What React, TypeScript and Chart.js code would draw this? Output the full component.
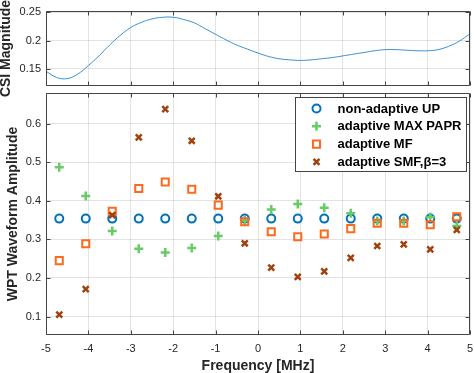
import React, { useEffect, useRef } from 'react';
import { Chart, registerables } from 'chart.js';

Chart.register(...registerables);

// ---------- data ----------
const csiFreq = [
  -5, -4.75, -4.5, -4.25, -4, -3.75, -3.5, -3.25, -3, -2.75, -2.5, -2.25, -2, -1.75, -1.5, -1.25, -1, -0.75, -0.5, -0.25,
  0, 0.25, 0.5, 0.75, 1, 1.25, 1.5, 1.75, 2, 2.25, 2.5, 2.75, 3, 3.25, 3.5, 3.75, 4, 4.25, 4.5, 4.75, 5,
];
const csiMag = [
  0.146, 0.135, 0.133, 0.141, 0.156, 0.173, 0.192, 0.209, 0.223, 0.232, 0.238, 0.241, 0.241, 0.237, 0.231, 0.221, 0.211, 0.201, 0.192, 0.185,
  0.178, 0.172, 0.168, 0.166, 0.165, 0.166, 0.168, 0.17, 0.173, 0.176, 0.179, 0.182, 0.184, 0.184, 0.183, 0.182, 0.182, 0.184, 0.19, 0.199, 0.212,
];

const toneFreq = [
  -4.6875, -4.0625, -3.4375, -2.8125, -2.1875, -1.5625, -0.9375, -0.3125,
  0.3125, 0.9375, 1.5625, 2.1875, 2.8125, 3.4375, 4.0625, 4.6875,
];
const upAmp = [0.354, 0.354, 0.354, 0.354, 0.354, 0.354, 0.354, 0.354, 0.354, 0.354, 0.354, 0.354, 0.354, 0.354, 0.354, 0.354];
const maxPaprAmp = [0.487, 0.413, 0.322, 0.276, 0.266, 0.278, 0.309, 0.349, 0.378, 0.392, 0.382, 0.368, 0.348, 0.348, 0.358, 0.335];
const mfAmp = [0.245, 0.289, 0.373, 0.432, 0.449, 0.43, 0.389, 0.346, 0.32, 0.307, 0.314, 0.328, 0.342, 0.342, 0.338, 0.359];
const smfAmp = [0.105, 0.171, 0.363, 0.565, 0.638, 0.556, 0.412, 0.29, 0.227, 0.203, 0.217, 0.252, 0.283, 0.287, 0.274, 0.325];

const seriesNames = ['non-adaptive UP', 'adaptive MAX PAPR', 'adaptive MF', 'adaptive SMF,\u03B2=3'];

const freqTicks = [-5, -4, -3, -2, -1, 0, 1, 2, 3, 4, 5];
const csiTicks = [0.15, 0.2, 0.25];
const ampTicks = [0.1, 0.2, 0.3, 0.4, 0.5, 0.6];

// ---------- styles ----------
const FONT = '"Liberation Sans", Arial, Helvetica, sans-serif';
const AXIS_COLOR = '#444444';
const TEXT_COLOR = '#262626';
const GRID_COLOR = 'rgba(38,38,38,0.13)';

const styles = [
  { color: '#0072BD', point: 'circle', r: 4, lw: 2, order: 4 },
  { color: '#66CC66', point: 'cross', r: 4.5, lw: 2.5, order: 3 },
  { color: '#FB6A1E', point: 'rect', r: 5, lw: 2, order: 2 },
  { color: '#A2410D', point: 'crossRot', r: 4.2, lw: 2.5, order: 1 },
];

function drawMarker(ctx: CanvasRenderingContext2D, style: string, x: number, y: number, r: number, color: string, lw: number) {
  ctx.save();
  ctx.strokeStyle = color;
  ctx.lineWidth = lw;
  ctx.beginPath();
  if (style === 'circle') {
    ctx.arc(x, y, r, 0, Math.PI * 2);
  } else if (style === 'rect') {
    const s = r * Math.SQRT1_2;
    ctx.rect(x - s, y - s, 2 * s, 2 * s);
  } else if (style === 'cross') {
    ctx.moveTo(x - r, y);
    ctx.lineTo(x + r, y);
    ctx.moveTo(x, y - r);
    ctx.lineTo(x, y + r);
  } else {
    const d = r * Math.SQRT1_2;
    ctx.moveTo(x - d, y - d);
    ctx.lineTo(x + d, y + d);
    ctx.moveTo(x + d, y - d);
    ctx.lineTo(x - d, y + d);
  }
  ctx.stroke();
  ctx.restore();
}

const boxPlugin = {
  id: 'matlabBox',
  afterDatasetsDraw(chart: any) {
    const { ctx, chartArea: a, scales } = chart;
    const L = Math.round(a.left) + 0.5;
    const R = Math.round(a.right) - 0.5;
    const T = Math.round(a.top) + 0.5;
    const B = Math.round(a.bottom) - 0.5;
    const tl = 4;
    ctx.save();
    ctx.strokeStyle = AXIS_COLOR;
    ctx.lineWidth = 1;
    ctx.beginPath();
    ctx.rect(L, T, R - L, B - T);
    scales.x.ticks.forEach((t: any) => {
      const px = Math.round(scales.x.getPixelForValue(t.value)) + 0.5;
      ctx.moveTo(px, B);
      ctx.lineTo(px, B - tl);
      ctx.moveTo(px, T);
      ctx.lineTo(px, T + tl);
    });
    scales.y.ticks.forEach((t: any) => {
      const py = Math.round(scales.y.getPixelForValue(t.value)) + 0.5;
      ctx.moveTo(L, py);
      ctx.lineTo(L + tl, py);
      ctx.moveTo(R, py);
      ctx.lineTo(R - tl, py);
    });
    ctx.stroke();
    ctx.restore();
  },
};

const legendPlugin = {
  id: 'boxLegend',
  afterDraw(chart: any) {
    const { ctx, chartArea: a } = chart;
    const w = 171;
    const h = 74;
    const x0 = Math.round(a.right) - 4 - w + 0.5;
    const y0 = Math.round(a.top) + 4 + 0.5;
    ctx.save();
    ctx.fillStyle = '#ffffff';
    ctx.fillRect(x0, y0, w, h);
    ctx.strokeStyle = AXIS_COLOR;
    ctx.lineWidth = 1;
    ctx.strokeRect(x0, y0, w, h);
    ctx.font = `bold 13px ${FONT}`;
    ctx.textBaseline = 'middle';
    ctx.textAlign = 'left';
    ctx.fillStyle = '#000000';
    seriesNames.forEach((name, i) => {
      const cy = y0 + 11 + i * 17.8;
      const s = styles[i];
      drawMarker(ctx, s.point, x0 + 21, cy, s.r, s.color, s.lw);
      ctx.fillText(name, x0 + 42, cy + 0.5);
    });
    ctx.restore();
  },
};

const grid = { color: GRID_COLOR, drawTicks: false, lineWidth: 1 };

const fixSize = (prop: 'width' | 'height', size: number) => (s: any) => {
  s[prop] = size;
  s.paddingTop = 0;
  s.paddingBottom = 0;
  s.paddingLeft = 0;
  s.paddingRight = 0;
};

export default function App() {
  const topRef = useRef<HTMLCanvasElement>(null);
  const botRef = useRef<HTMLCanvasElement>(null);

  useEffect(() => {
    Chart.defaults.font.family = FONT;
    Chart.defaults.color = TEXT_COLOR;

    const top = new Chart(topRef.current as HTMLCanvasElement, {
      type: 'scatter',
      data: {
        datasets: [
          {
            data: csiFreq.map((f, i) => ({ x: f, y: csiMag[i] })),
            showLine: true,
            borderColor: '#3a8fd2',
            borderWidth: 1,
            pointRadius: 0,
            tension: 0.4,
            fill: false,
          },
        ],
      },
      options: {
        animation: false,
        responsive: false,
        layout: { autoPadding: false, padding: { top: 11, right: 4, left: 0, bottom: 0 } },
        plugins: { legend: { display: false }, tooltip: { enabled: false } },
        scales: {
          x: {
            type: 'linear',
            min: -5,
            max: 5,
            afterBuildTicks: (s: any) => {
              s.ticks = freqTicks.map((v) => ({ value: v }));
            },
            afterFit: fixSize('height', 24),
            ticks: { display: false },
            grid,
            border: { display: false },
          },
          y: {
            type: 'linear',
            min: 0.12,
            max: 0.252,
            afterBuildTicks: (s: any) => {
              s.ticks = csiTicks.map((v) => ({ value: v }));
            },
            afterFit: fixSize('width', 46),
            ticks: {
              padding: 5,
              font: { size: 11 },
              color: TEXT_COLOR,
              callback: (v: any) => String(v),
            },
            grid,
            border: { display: false },
            title: {
              display: true,
              text: 'CSI Magnitude',
              font: { size: 14, weight: 'bold', lineHeight: 1 },
              color: TEXT_COLOR,
              padding: { top: -1, bottom: 0 },
            },
          },
        },
      },
      plugins: [boxPlugin],
    } as any);

    const seriesValues = [upAmp, maxPaprAmp, mfAmp, smfAmp];
    const bottom = new Chart(botRef.current as HTMLCanvasElement, {
      type: 'scatter',
      data: {
        datasets: seriesValues.map((vals, i) => ({
          label: seriesNames[i],
          data: toneFreq.map((f, k) => ({ x: f, y: vals[k] })),
          pointStyle: styles[i].point,
          pointRadius: styles[i].r,
          pointBorderWidth: styles[i].lw,
          borderColor: styles[i].color,
          backgroundColor: 'rgba(0,0,0,0)',
          pointBackgroundColor: 'rgba(0,0,0,0)',
          pointBorderColor: styles[i].color,
          order: styles[i].order,
          showLine: false,
        })),
      },
      options: {
        animation: false,
        responsive: false,
        layout: { autoPadding: false, padding: { top: 5, right: 4, left: 0, bottom: 0 } },
        plugins: { legend: { display: false }, tooltip: { enabled: false } },
        scales: {
          x: {
            type: 'linear',
            min: -5,
            max: 5,
            afterBuildTicks: (s: any) => {
              s.ticks = freqTicks.map((v) => ({ value: v }));
            },
            afterFit: fixSize('height', 38),
            ticks: {
              padding: 7,
              font: { size: 11 },
              color: TEXT_COLOR,
              maxRotation: 0,
              autoSkip: false,
              callback: (v: any) => String(v),
            },
            grid,
            border: { display: false },
            title: {
              display: true,
              text: 'Frequency [MHz]',
              font: { size: 14, weight: 'bold', lineHeight: 1 },
              color: TEXT_COLOR,
              padding: { top: 0, bottom: 0 },
            },
          },
          y: {
            type: 'linear',
            min: 0.052,
            max: 0.68,
            afterBuildTicks: (s: any) => {
              s.ticks = ampTicks.map((v) => ({ value: v }));
            },
            afterFit: fixSize('width', 46),
            ticks: {
              padding: 5,
              font: { size: 11 },
              color: TEXT_COLOR,
              callback: (v: any) => String(v),
            },
            grid,
            border: { display: false },
            title: {
              display: true,
              text: 'WPT Waveform Amplitude',
              font: { size: 14, weight: 'bold', lineHeight: 1 },
              color: TEXT_COLOR,
              padding: { top: 6, bottom: 0 },
            },
          },
        },
      },
      plugins: [boxPlugin, legendPlugin],
    } as any);

    return () => {
      top.destroy();
      bottom.destroy();
    };
  }, []);

  return (
    <div style={{ position: 'absolute', left: 0, top: 0, width: 474, height: 373, background: '#ffffff', overflow: 'hidden' }}>
      <canvas ref={topRef} width={474} height={110} style={{ position: 'absolute', left: 0, top: 0 }} />
      <canvas ref={botRef} width={474} height={285} style={{ position: 'absolute', left: 0, top: 88 }} />
    </div>
  );
}
